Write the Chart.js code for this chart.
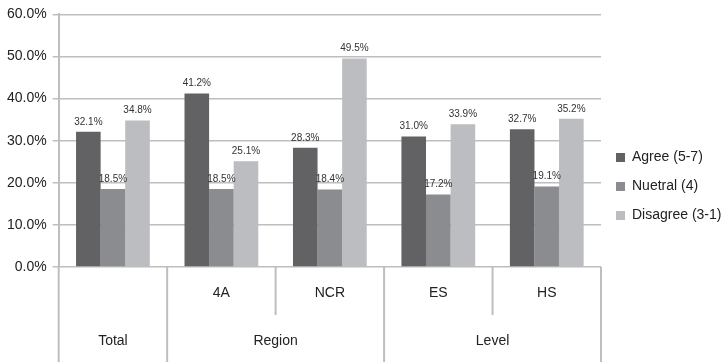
<!DOCTYPE html>
<html>
<head>
<meta charset="utf-8">
<script src="https://cdn.jsdelivr.net/npm/chart.js@4"></script>
<style>
  body { margin: 0; background: #fff; }
</style>
</head>
<body>
<canvas id="myChart" width="722" height="362"></canvas>
<script>
const categories = ['Total', '4A', 'NCR', 'ES', 'HS'];
const subLabels = ['', '4A', 'NCR', 'ES', 'HS'];
const groupLabels = ['Total', 'Region', 'Region', 'Level', 'Level'];
const seriesNames = ['Agree (5-7)', 'Nuetral (4)', 'Disagree (3-1)'];
const agree = [32.1, 41.2, 28.3, 31.0, 32.7];
const neutral = [18.5, 18.5, 18.4, 17.2, 19.1];
const disagree = [34.8, 25.1, 49.5, 33.9, 35.2];
const yMax = 60;
const yStep = 10;

const fontFamily = '"Liberation Sans", Arial, sans-serif';
const narrowFamily = '"Liberation Sans Narrow", "Arial Narrow", "Liberation Sans", sans-serif';
const lineColor = '#bebebe';

// value labels above every bar
const barLabels = {
  id: 'barLabels',
  afterDatasetsDraw(chart) {
    const ctx = chart.ctx;
    ctx.save();
    ctx.font = '10px ' + narrowFamily;
    ctx.fillStyle = '#333';
    ctx.textAlign = 'center';
    ctx.textBaseline = 'bottom';
    chart.data.datasets.forEach(function(ds, di) {
      chart.getDatasetMeta(di).data.forEach(function(bar, i) {
        ctx.fillText(ds.data[i].toFixed(1) + '%', bar.x, bar.y - 5);
      });
    });
    ctx.restore();
  }
};

// two-level category axis with separators
const groupAxis = {
  id: 'groupAxis',
  afterDraw(chart) {
    const ctx = chart.ctx;
    const x = chart.scales.x;
    const area = chart.chartArea;
    const n = categories.length;
    const half = (x.getPixelForValue(1) - x.getPixelForValue(0)) / 2;
    ctx.save();
    ctx.strokeStyle = lineColor;
    ctx.lineWidth = 2;
    for (let i = 0; i <= n; i++) {
      const px = i < n ? x.getPixelForValue(i) - half : x.getPixelForValue(n - 1) + half;
      const full = i === 0 || i === n || groupLabels[i] !== groupLabels[i - 1];
      ctx.beginPath();
      ctx.moveTo(px, area.bottom);
      ctx.lineTo(px, full ? chart.height : area.bottom + 48);
      ctx.stroke();
    }
    ctx.font = '14px ' + fontFamily;
    ctx.fillStyle = '#222';
    ctx.textAlign = 'center';
    ctx.textBaseline = 'middle';
    subLabels.forEach(function(lab, i) {
      if (lab) ctx.fillText(lab, x.getPixelForValue(i), area.bottom + 26);
    });
    let start = 0;
    for (let i = 1; i <= n; i++) {
      if (i === n || groupLabels[i] !== groupLabels[start]) {
        const cx = (x.getPixelForValue(start) + x.getPixelForValue(i - 1)) / 2;
        ctx.fillText(groupLabels[start], cx, area.bottom + 74);
        start = i;
      }
    }
    ctx.restore();
  }
};

const ctx = document.getElementById('myChart');

new Chart(ctx, {
  type: 'bar',
  data: {
    labels: categories,
    datasets: [
      { label: seriesNames[0], data: agree, backgroundColor: '#626264' },
      { label: seriesNames[1], data: neutral, backgroundColor: '#8b8c8f' },
      { label: seriesNames[2], data: disagree, backgroundColor: '#bcbdc0' }
    ]
  },
  options: {
    responsive: false,
    animation: false,
    layout: { padding: { top: 11, right: 0, left: 1 } },
    datasets: {
      bar: { categoryPercentage: 0.68, barPercentage: 1 }
    },
    scales: {
      x: {
        grid: { display: false },
        border: { display: false },
        ticks: { display: false },
        afterFit: function(scale) { scale.height = 95; }
      },
      y: {
        min: 0,
        max: yMax,
        ticks: {
          stepSize: yStep,
          padding: 6,
          color: '#222',
          font: { family: fontFamily, size: 14 },
          callback: function(v) { return v.toFixed(1) + '%'; }
        },
        grid: { color: lineColor, lineWidth: 1.5, tickLength: 6 },
        border: { color: lineColor, width: 2 }
      }
    },
    plugins: {
      legend: {
        position: 'right',
        maxWidth: 121,
        labels: {
          boxWidth: 9,
          boxHeight: 9,
          padding: 15,
          color: '#222',
          font: { family: fontFamily, size: 14 }
        }
      },
      tooltip: { enabled: false }
    }
  },
  plugins: [barLabels, groupAxis]
});
</script>
</body>
</html>
